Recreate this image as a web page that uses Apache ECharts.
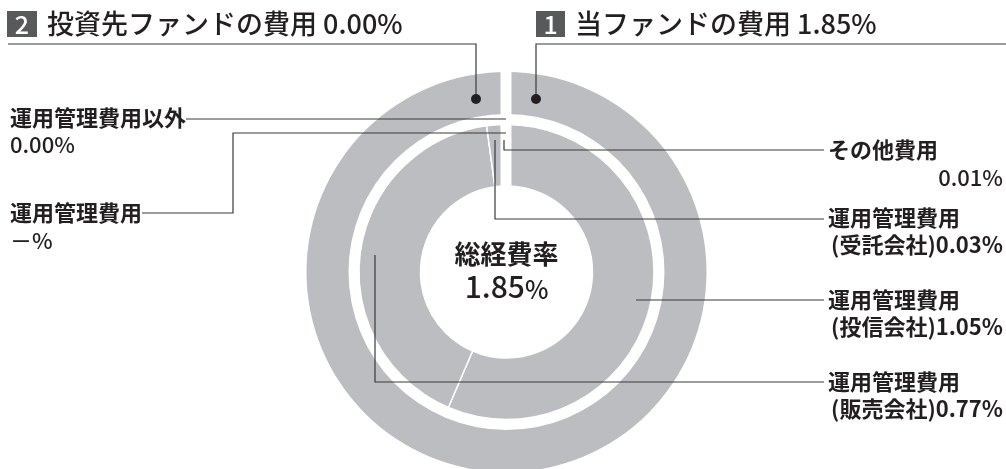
<!DOCTYPE html>
<html>
<head>
<meta charset="utf-8">
<script src="https://cdn.jsdelivr.net/npm/echarts@6/dist/echarts.min.js"></script>
<style>
  html, body { margin: 0; padding: 0; background: #fff; }
  #main { width: 1006px; height: 469px; }
</style>
</head>
<body>
<div id="main"></div>
<script>
// 外側: ファンド別の費用
const fundNames = ['当ファンドの費用', '投資先ファンドの費用']
const fundValues = [1.85, 0.00]
// 内側: 当ファンドの費用内訳（時計回り）
const sliceNames = ['運用管理費用(投信会社)', '運用管理費用(販売会社)', '運用管理費用(受託会社)', 'その他費用']
const sliceValues = [1.05, 0.77, 0.03, 0.01]
// 投資先ファンドの内訳（値なし）
const subNames = ['運用管理費用以外', '運用管理費用']
const subValues = ['0.00', '－']
const totalRate = 1.85

const FONT = "'Noto Sans CJK JP', 'Noto Sans', sans-serif"
const INK = '#231f20'
const GREY = '#bcbdc0'
const LINE = '#3a3a3a'
const pct = v => v.toFixed(2) + '%'

const cx = 506.5
const cy = 272

function text (x, y, str, size, opts) {
  return {
    type: 'text', x: x, y: y, z: 30,
    style: {
      text: str, fill: INK, font: (opts && opts.weight || 'bold') + ' ' + size + 'px ' + FONT,
      textAlign: (opts && opts.align) || 'left', textVerticalAlign: 'middle'
    }
  }
}
function line (pts) {
  return { type: 'polyline', z: 20, shape: { points: pts }, style: { stroke: LINE, lineWidth: 1.2, fill: null } }
}

const chart = echarts.init(document.getElementById('main'))

const graphics = [
  // 上部の隙間
  { type: 'rect', z: 10, shape: { x: 500.5, y: 66, width: 11, height: 124 }, style: { fill: '#fff' } },

  // 見出し 2
  { type: 'rect', z: 20, shape: { x: 7, y: 11, width: 30, height: 26 }, style: { fill: '#58595b' } },
  { type: 'text', x: 22, y: 24.5, z: 30, style: { text: '2', fill: '#fff', font: '500 25px ' + FONT, textAlign: 'center', textVerticalAlign: 'middle' } },
  text(47, 24, fundNames[1] + ' ' + pct(fundValues[1]), 27, { weight: 500 }),
  line([[8, 44], [476, 44], [476, 99]]),
  { type: 'circle', z: 20, shape: { cx: 476, cy: 99, r: 5 }, style: { fill: INK } },

  // 見出し 1
  { type: 'rect', z: 20, shape: { x: 536, y: 11, width: 29, height: 26 }, style: { fill: '#58595b' } },
  { type: 'text', x: 550.5, y: 24.5, z: 30, style: { text: '1', fill: '#fff', font: '500 25px ' + FONT, textAlign: 'center', textVerticalAlign: 'middle' } },
  text(575, 24, fundNames[0] + ' ' + pct(fundValues[0]), 27, { weight: 500 }),
  line([[1006, 44], [536, 44], [536, 99]]),
  { type: 'circle', z: 20, shape: { cx: 536, cy: 99, r: 5 }, style: { fill: INK } },

  // 中央
  text(cx, 254, '総経費率', 26, { align: 'center' }),
  {
    type: 'text', x: cx, y: 287, z: 30,
    style: {
      text: '{n|' + totalRate.toFixed(2) + '}{p|%}',
      textAlign: 'center', textVerticalAlign: 'middle',
      rich: {
        n: { fontFamily: FONT, fontSize: 30, fill: INK, fontWeight: 500 },
        p: { fontFamily: FONT, fontSize: 25, fill: INK, fontWeight: 500, padding: [4, 0, 0, 0] }
      }
    }
  },

  // 左側ラベル（投資先ファンド）
  line([[186, 119], [506, 119]]),
  text(10, 118, subNames[0], 22),
  text(10, 145, subValues[0] + '%', 22, { weight: 500 }),
  line([[142, 213], [233, 213], [233, 133], [506, 133]]),
  text(10, 213, subNames[1], 22),
  text(10, 241, subValues[1] + '%', 22, { weight: 500 }),

  // 右側ラベル（当ファンド）
  line([[504, 140], [504, 150], [824, 150]]),
  text(828, 150, sliceNames[3], 22),
  text(1003, 178, pct(sliceValues[3]), 22, { align: 'right', weight: 500 }),

  line([[495, 140], [495, 219], [824, 219]]),
  text(828, 218, sliceNames[2].slice(0, 6), 22),
  text(1003, 245, sliceNames[2].slice(6) + pct(sliceValues[2]), 22, { align: 'right' }),

  line([[636, 300], [824, 300]]),
  text(828, 300, sliceNames[0].slice(0, 6), 22),
  text(1003, 327, sliceNames[0].slice(6) + pct(sliceValues[0]), 22, { align: 'right' }),

  line([[375, 255], [375, 382], [824, 382]]),
  text(828, 382, sliceNames[1].slice(0, 6), 22),
  text(1003, 409, sliceNames[1].slice(6) + pct(sliceValues[1]), 22, { align: 'right' })
]

const option = {
  animation: false,
  backgroundColor: '#fff',
  series: [
    {
      name: 'fund',
      type: 'pie',
      silent: true,
      center: [cx, cy],
      radius: [158, 200],
      startAngle: 90,
      clockwise: true,
      label: { show: false },
      labelLine: { show: false },
      itemStyle: { color: GREY },
      data: fundNames.map((n, i) => ({ name: n, value: fundValues[i] }))
    },
    {
      name: 'breakdown',
      type: 'pie',
      silent: true,
      center: [cx, cy],
      radius: [86, 147.5],
      startAngle: 90,
      clockwise: true,
      label: { show: false },
      labelLine: { show: false },
      itemStyle: { color: GREY, borderColor: '#fff', borderWidth: 1.5 },
      data: sliceNames.map((n, i) => ({ name: n, value: sliceValues[i] }))
    }
  ],
  graphic: { elements: graphics }
}

chart.setOption(option)
</script>
</body>
</html>
